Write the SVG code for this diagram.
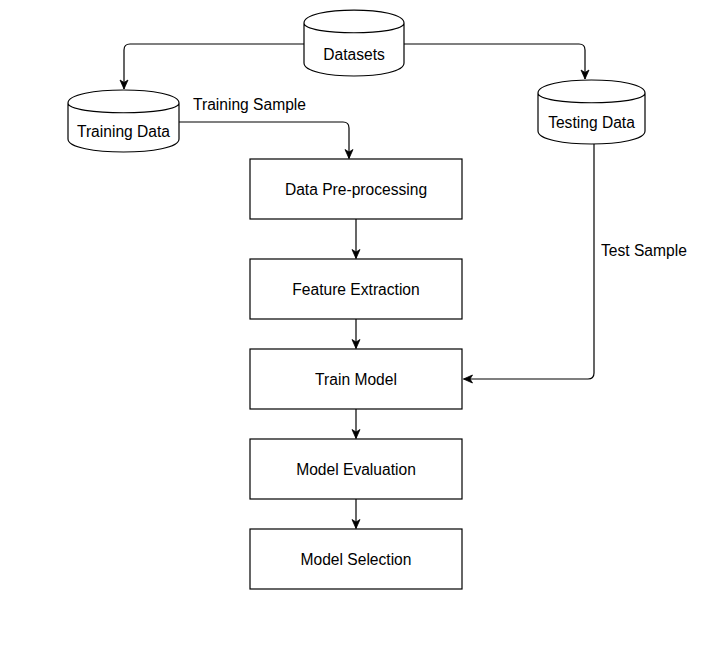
<svg xmlns="http://www.w3.org/2000/svg" width="718" height="661" viewBox="0 0 718 661">
<style>
.shape{fill:#ffffff;stroke:#000000;stroke-width:1.2}
.edge{fill:none;stroke:#000000;stroke-width:1.2}
text{font-family:"Liberation Sans",Arial,sans-serif;font-size:15.6px;fill:#000000}
.c{text-anchor:middle}
</style>
<defs>
<marker id="arr" markerUnits="userSpaceOnUse" markerWidth="12" markerHeight="12" viewBox="-10 -6 12 12" refX="0" refY="0" orient="auto">
<path d="M0,0 L-9,-4 L-6.5,0 L-9,4 Z" fill="#000000" stroke="#000000" stroke-width="0.8"/>
</marker>
</defs>
<rect width="718" height="661" fill="#ffffff"/>
<g id="connectors">
<path class="edge" d="M304,44 H130 Q124,44 124,50 V89" marker-end="url(#arr)"/>
<path class="edge" d="M404,44 H579 Q585,44 585,50 V79" marker-end="url(#arr)"/>
<path class="edge" d="M179,122 H343 Q349,122 349,128 V158.5" marker-end="url(#arr)"/>
<path class="edge" d="M594,144 V373 Q594,379 588,379 H463.5" marker-end="url(#arr)"/>
<path class="edge" d="M356,219 V258.5" marker-end="url(#arr)"/>
<path class="edge" d="M356,319 V348.5" marker-end="url(#arr)"/>
<path class="edge" d="M356,409 V438.5" marker-end="url(#arr)"/>
<path class="edge" d="M356,499 V528.5" marker-end="url(#arr)"/>
<text x="193" y="110">Training Sample</text>
<text x="601" y="256">Test Sample</text>
</g>
<g id="datasets">
<path class="shape" d="M304,23 C304,5.7 404,5.7 404,23 L404,63 C404,80.3 304,80.3 304,63 Z M304,23 C304,36 404,36 404,23"/>
<text class="c" x="354" y="60">Datasets</text>
</g>
<g id="training-data">
<path class="shape" d="M68,103 C68,85.7 179,85.7 179,103 L179,139 C179,156.3 68,156.3 68,139 Z M68,103 C68,116 179,116 179,103"/>
<text class="c" x="123.5" y="137">Training Data</text>
</g>
<g id="testing-data">
<path class="shape" d="M538,93 C538,75.7 645,75.7 645,93 L645,131 C645,148.3 538,148.3 538,131 Z M538,93 C538,106 645,106 645,93"/>
<text class="c" x="591.5" y="128">Testing Data</text>
</g>
<g id="data-preprocessing">
<rect class="shape" x="250" y="159" width="212" height="60"/>
<text class="c" x="356" y="195">Data Pre-processing</text>
</g>
<g id="feature-extraction">
<rect class="shape" x="250" y="259" width="212" height="60"/>
<text class="c" x="356" y="295">Feature Extraction</text>
</g>
<g id="train-model">
<rect class="shape" x="250" y="349" width="212" height="60"/>
<text class="c" x="356" y="385">Train Model</text>
</g>
<g id="model-evaluation">
<rect class="shape" x="250" y="439" width="212" height="60"/>
<text class="c" x="356" y="475">Model Evaluation</text>
</g>
<g id="model-selection">
<rect class="shape" x="250" y="529" width="212" height="60"/>
<text class="c" x="356" y="565">Model Selection</text>
</g>
</svg>
